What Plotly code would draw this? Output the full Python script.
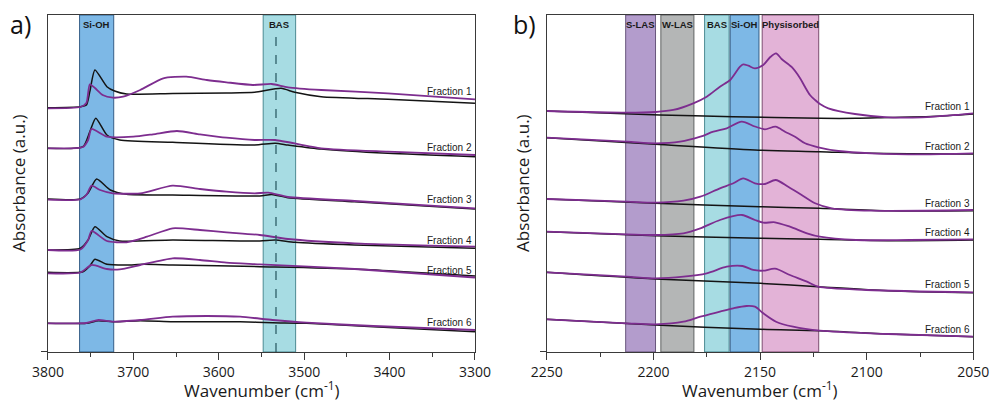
import plotly.graph_objects as go

# ---------------- Panel a) : OH-stretch region ----------------
# wavenumbers (cm-1) and absorbance (a.u., stacked with offsets) per fraction
oh_black = {
    "Fraction 1": ([3800, 3762, 3755, 3751, 3745, 3731, 3722, 3708, 3654, 3591, 3558, 3527, 3511, 3480, 3402, 3300],
                   [2.443, 2.453, 2.47, 2.603, 2.82, 2.653, 2.61, 2.58, 2.585, 2.59, 2.597, 2.637, 2.597, 2.553, 2.527, 2.487]),
    "Fraction 2": ([3800, 3759, 3751, 3744, 3731, 3716, 3654, 3558, 3534, 3519, 3480, 3402, 3300],
                   [2.037, 2.053, 2.203, 2.337, 2.17, 2.12, 2.097, 2.07, 2.087, 2.07, 2.03, 1.987, 1.953]),
    "Fraction 3": ([3800, 3762, 3753, 3743, 3727, 3708, 3654, 3552, 3538, 3519, 3441, 3300],
                   [1.53, 1.53, 1.59, 1.73, 1.62, 1.577, 1.57, 1.56, 1.575, 1.543, 1.503, 1.43]),
    "Fraction 4": ([3800, 3762, 3753, 3745, 3731, 3716, 3654, 3552, 3534, 3511, 3441, 3300],
                   [1.02, 1.037, 1.12, 1.253, 1.153, 1.11, 1.12, 1.11, 1.12, 1.097, 1.07, 1.037]),
    "Fraction 5": ([3800, 3759, 3751, 3745, 3731, 3708, 3689, 3654, 3552, 3441, 3300],
                   [0.797, 0.803, 0.86, 0.927, 0.877, 0.87, 0.877, 0.87, 0.853, 0.83, 0.76]),
    "Fraction 6": ([3800, 3755, 3741, 3724, 3692, 3654, 3614, 3575, 3537, 3497, 3419, 3300],
                   [0.287, 0.287, 0.313, 0.303, 0.313, 0.303, 0.303, 0.303, 0.293, 0.287, 0.253, 0.203]),
}
oh_purple = {
    "Fraction 1": ([3800, 3762, 3755, 3751, 3745, 3736, 3724, 3712, 3692, 3665, 3638, 3614, 3591, 3560, 3538, 3519, 3480, 3402, 3300],
                   [2.437, 2.45, 2.49, 2.677, 2.64, 2.57, 2.543, 2.553, 2.62, 2.737, 2.753, 2.72, 2.697, 2.67, 2.68, 2.647, 2.62, 2.587, 2.527]),
    "Fraction 2": ([3800, 3759, 3753, 3749, 3731, 3700, 3677, 3649, 3622, 3591, 3558, 3534, 3480, 3402, 3300],
                   [2.037, 2.05, 2.12, 2.23, 2.153, 2.153, 2.177, 2.21, 2.177, 2.143, 2.12, 2.12, 2.037, 2.003, 1.97]),
    "Fraction 3": ([3800, 3762, 3755, 3749, 3739, 3724, 3692, 3654, 3622, 3591, 3558, 3542, 3519, 3441, 3300],
                   [1.523, 1.527, 1.57, 1.663, 1.62, 1.587, 1.587, 1.663, 1.63, 1.603, 1.587, 1.593, 1.55, 1.51, 1.437]),
    "Fraction 4": ([3800, 3762, 3753, 3749, 3731, 3708, 3684, 3654, 3622, 3591, 3552, 3519, 3441, 3300],
                   [1.02, 1.025, 1.12, 1.21, 1.11, 1.097, 1.153, 1.237, 1.22, 1.197, 1.17, 1.13, 1.087, 1.053]),
    "Fraction 5": ([3800, 3762, 3749, 3731, 3716, 3692, 3654, 3622, 3591, 3552, 3441, 3300],
                   [0.787, 0.795, 0.87, 0.83, 0.827, 0.87, 0.937, 0.92, 0.893, 0.877, 0.83, 0.745]),
    "Fraction 6": ([3800, 3755, 3741, 3724, 3692, 3654, 3614, 3575, 3537, 3497, 3419, 3300],
                   [0.287, 0.29, 0.32, 0.303, 0.32, 0.353, 0.36, 0.353, 0.32, 0.293, 0.26, 0.22]),
}
oh_label_y = [2.60, 2.04, 1.52, 1.11, 0.81, 0.293]
oh_bands = [("Si-OH", 3763, 3723, "#7db8e6", "#27507a"),
            ("BAS", 3548, 3510, "#a7dce3", "#3d7f88")]
oh_bas_line = 3533

# ---------------- Panel b) : CO-stretch region ----------------
co_purple = {
    "Fraction 1": ([2250, 2212.5, 2199, 2190.7, 2181.3, 2175, 2168.8, 2164, 2159.4, 2157.9, 2155.5, 2152.4, 2148.5, 2145.3, 2142.5,
                    2139.9, 2135.2, 2131.3, 2128.9, 2126.6, 2124.2, 2121.9, 2118, 2105.5, 2090, 2074, 2058.6, 2050],
                   [2.41, 2.393, 2.40, 2.42, 2.487, 2.553, 2.653, 2.72, 2.853, 2.877, 2.863, 2.837, 2.87, 2.947, 2.987,
                    2.93, 2.85, 2.74, 2.65, 2.57, 2.52, 2.48, 2.437, 2.38, 2.347, 2.347, 2.37, 2.387]),
    "Fraction 2": ([2250, 2212.5, 2199, 2187.5, 2178, 2171.9, 2165.6, 2158.6, 2152.4, 2147.7, 2142.7, 2138.3, 2133.6, 2128.9,
                    2122.7, 2113.3, 2097.7, 2074.2, 2050],
                   [2.143, 2.103, 2.087, 2.103, 2.153, 2.203, 2.237, 2.303, 2.255, 2.227, 2.253, 2.203, 2.153, 2.087,
                    2.047, 2.01, 1.987, 1.977, 1.987]),
    "Fraction 3": ([2250, 2212.5, 2199, 2185.9, 2178, 2168.8, 2162.5, 2157.9, 2152.4, 2147.7, 2142.7, 2136.8, 2130.5, 2124.2,
                    2116.4, 2097.7, 2050],
                   [1.53, 1.503, 1.493, 1.513, 1.553, 1.637, 1.687, 1.737, 1.687, 1.68, 1.72, 1.653, 1.57, 1.487,
                    1.437, 1.413, 1.42]),
    "Fraction 4": ([2250, 2212.5, 2199, 2185.9, 2178, 2168.8, 2158.5, 2152.4, 2148.5, 2143, 2136, 2128, 2122, 2105, 2080, 2050],
                   [1.203, 1.177, 1.17, 1.187, 1.237, 1.32, 1.37, 1.32, 1.293, 1.297, 1.253, 1.187, 1.153, 1.12, 1.12, 1.127]),
    "Fraction 5": ([2250, 2212.5, 2199, 2185.9, 2175, 2165.6, 2158.2, 2153.2, 2148.5, 2143, 2136, 2128, 2122.7, 2100, 2050],
                   [0.797, 0.753, 0.737, 0.753, 0.787, 0.853, 0.86, 0.82, 0.813, 0.833, 0.77, 0.703, 0.653, 0.62, 0.597]),
    "Fraction 6": ([2250, 2212.5, 2199, 2185.9, 2178, 2168.8, 2162.5, 2156.3, 2152.4, 2148.5, 2142.5, 2134.5, 2122, 2090, 2050],
                   [0.327, 0.287, 0.277, 0.303, 0.353, 0.403, 0.437, 0.46, 0.453, 0.387, 0.303, 0.253, 0.213, 0.18, 0.153]),
}
co_black = {
    "Fraction 1": ([2250, 2197, 2162.7, 2122, 2105, 2090, 2070, 2050], [2.41, 2.37, 2.353, 2.337, 2.337, 2.345, 2.355, 2.38]),
    "Fraction 2": ([2250, 2199, 2152.4, 2122, 2097.7, 2050], [2.143, 2.077, 2.02, 2.003, 1.987, 1.98]),
    "Fraction 3": ([2250, 2199, 2150, 2122.3, 2090, 2050], [1.53, 1.487, 1.453, 1.437, 1.413, 1.413]),
    "Fraction 4": ([2250, 2199, 2150, 2122, 2090, 2050], [1.203, 1.163, 1.137, 1.127, 1.113, 1.12]),
    "Fraction 5": ([2250, 2199, 2150, 2122.7, 2090, 2050], [0.797, 0.73, 0.687, 0.653, 0.613, 0.593]),
    "Fraction 6": ([2250, 2199, 2150, 2122, 2090, 2050], [0.327, 0.27, 0.227, 0.213, 0.18, 0.153]),
}
co_label_y = [2.453, 2.053, 1.487, 1.193, 0.67, 0.22]
co_bands = [("S-LAS", 2213, 2199, "#b39ccc", "#5b4a70"),
            ("W-LAS", 2196.5, 2181, "#b4b6b6", "#555858"),
            ("BAS", 2176, 2164.5, "#a7dce3", "#3d7f88"),
            ("Si-OH", 2164, 2150.5, "#7db8e6", "#27507a"),
            ("Physisorbed", 2149, 2122.5, "#e3b3d7", "#6f3e63")]

PURPLE = "#7d2d8f"
BLACK = "#141414"
Y_MAX = 3.37
TICK_FONT = dict(family="Open Sans, Arial, sans-serif", size=14, color="#1a1a1a")
TITLE_FONT = dict(family="Open Sans, Arial, sans-serif", size=17, color="#1a1a1a")
LABEL_FONT = dict(family="Liberation Sans, Arial, sans-serif", size=10, color="#1a1a1a")
BAND_FONT = dict(family="Liberation Sans, Arial, sans-serif", size=9.5, color="#1a1a1a")

fig = go.Figure()
shapes, annotations = [], []


def add_panel(xa, ya, black, purple, label_y, bands, x_end, smooth):
    xref, yref = xa.replace("axis", ""), ya.replace("axis", "")
    for name, x0, x1, fill, edge in bands:
        shapes.append(dict(type="rect", xref=xref, yref=f"{yref} domain", x0=x0, x1=x1, y0=0, y1=1,
                           fillcolor=fill, line=dict(color=edge, width=0.9), layer="below"))
        annotations.append(dict(xref=xref, yref=f"{yref} domain", x=(x0 + x1) / 2, y=0.972, text=f"<b>{name}</b>",
                                showarrow=False, font=BAND_FONT, xanchor="center", yanchor="middle"))
    for name in black:
        xs, ys = black[name]
        fig.add_trace(go.Scatter(x=xs, y=ys, mode="lines", xaxis=xref, yaxis=yref, showlegend=False,
                                 line=dict(color=BLACK, width=1.5, shape="spline", smoothing=smooth)))
        xs, ys = purple[name]
        fig.add_trace(go.Scatter(x=xs, y=ys, mode="lines", xaxis=xref, yaxis=yref, showlegend=False,
                                 line=dict(color=PURPLE, width=1.8, shape="spline", smoothing=smooth)))
    for name, yv in zip(black, label_y):
        annotations.append(dict(xref=xref, yref=yref, x=x_end, y=yv, text=name, showarrow=False,
                                font=LABEL_FONT, xanchor="right", yanchor="middle", xshift=-1))


add_panel("xaxis", "yaxis", oh_black, oh_purple, oh_label_y, oh_bands, 3300, 0.6)
add_panel("xaxis2", "yaxis2", co_black, co_purple, co_label_y, co_bands, 2050, 0.8)

shapes.append(dict(type="line", xref="x", yref="y domain", x0=oh_bas_line, x1=oh_bas_line, y0=0, y1=0.965,
                   line=dict(color="#24555e", width=1.2, dash="dash")))

axis_common = dict(showline=True, linecolor="#3a3a3a", linewidth=1.3, mirror=True, showgrid=False,
                   zeroline=False, automargin=False)
x_common = dict(axis_common, ticks="outside", ticklen=7, tickwidth=1.2, tickcolor="#3a3a3a", tickfont=TICK_FONT,
                minor=dict(ticks="outside", ticklen=4, tickwidth=1, tickcolor="#3a3a3a"))
y_common = dict(axis_common, range=[0, Y_MAX], showticklabels=False, ticks="outside", tickvals=[0], ticklen=6,
                tickcolor="#3a3a3a")

fig.update_layout(
    width=991, height=402, margin=dict(l=0, r=0, t=0, b=0, autoexpand=False),
    paper_bgcolor="white", plot_bgcolor="white",
    xaxis=dict(x_common, domain=[0.0484, 0.4793], range=[3800, 3300], dtick=100,
               minor=dict(x_common["minor"], dtick=50), anchor="y"),
    yaxis=dict(y_common, domain=[0.1244, 0.9627], anchor="x"),
    xaxis2=dict(x_common, domain=[0.5517, 0.9822], range=[2250, 2050], dtick=50,
                minor=dict(x_common["minor"], dtick=25), anchor="y2"),
    yaxis2=dict(y_common, domain=[0.1244, 0.9627], anchor="x2"),
    shapes=shapes,
)

# panel letters and axis titles
for x_px, letter in [(8, "a)"), (511, "b)")]:
    annotations.append(dict(xref="paper", yref="paper", x=x_px / 991, y=1 - 24 / 402, text=letter, showarrow=False,
                            font=dict(family="Open Sans, Arial, sans-serif", size=25, color="#111"),
                            xanchor="left", yanchor="middle"))
for x_px in [18, 522]:
    annotations.append(dict(xref="paper", yref="paper", x=x_px / 991, y=1 - 183 / 402, text="Absorbance (a.u.)",
                            showarrow=False, textangle=-90, font=TITLE_FONT, xanchor="center", yanchor="middle"))
for x_px in [261.5, 760]:
    annotations.append(dict(xref="paper", yref="paper", x=x_px / 991, y=1 - 389 / 402,
                            text="Wavenumber (cm<sup>-1</sup>)", showarrow=False, font=TITLE_FONT,
                            xanchor="center", yanchor="middle"))

fig.update_layout(annotations=annotations)
fig.write_html("out.html", config={"displayModeBar": False})
